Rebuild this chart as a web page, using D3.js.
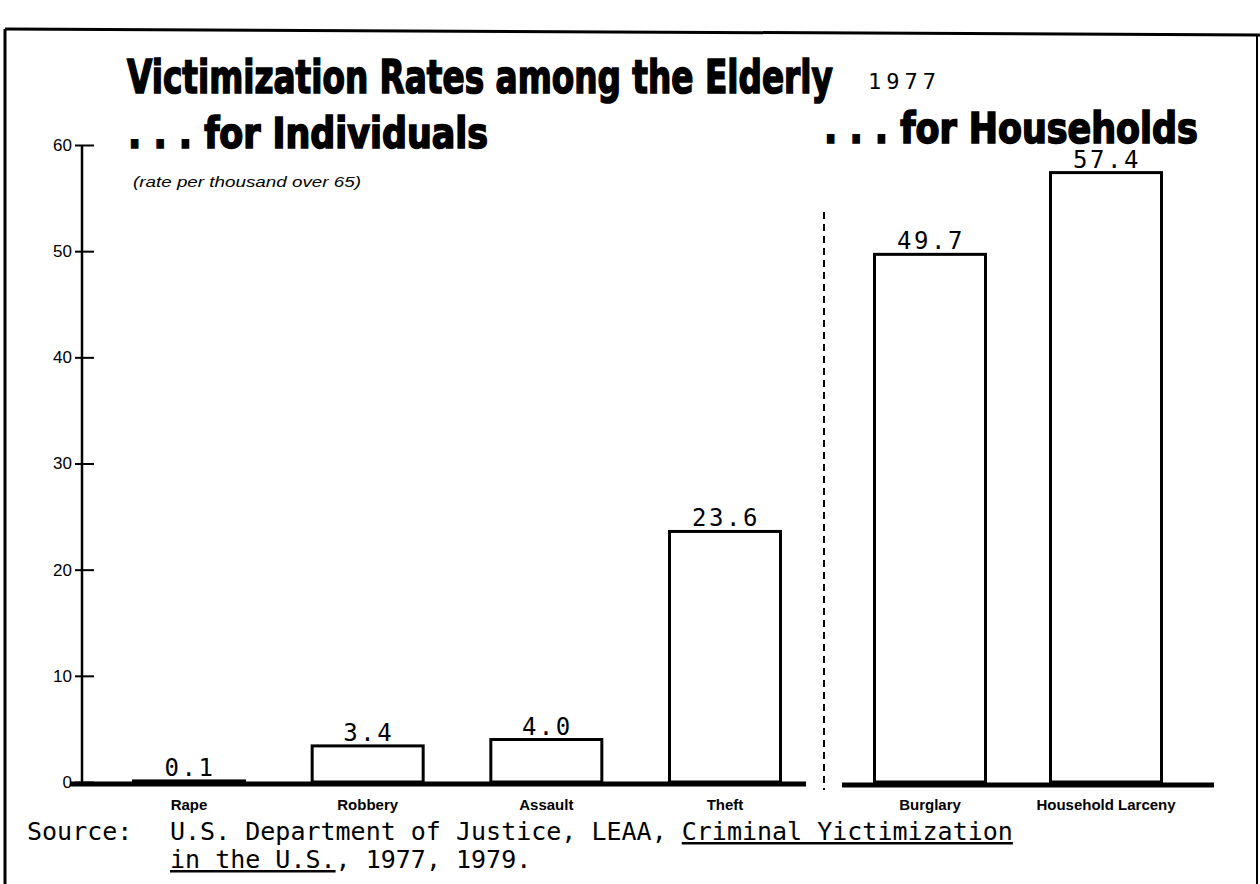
<!DOCTYPE html>
<html>
<head>
    <meta charset="UTF-8">
    <title>Victimization Rates among the Elderly</title>
    <script src="https://d3js.org/d3.v7.min.js"></script>
    <style type="text/css">
        body { margin: 0; background: white; }
        .mono { font-family: "DejaVu Sans Mono", "Liberation Mono", monospace; }
        .cond { font-family: "Liberation Sans Narrow", "DejaVu Sans Condensed", "Liberation Sans", sans-serif;
                font-weight: bold; stroke: black; stroke-width: 1.6px; }
    </style>
</head>
<body>
    <svg id="chart"></svg>

    <script>
        // data (rate per thousand over 65, 1977)
        const ind_categories = ["Rape", "Robbery", "Assault", "Theft"];
        const ind_values = [0.1, 3.4, 4.0, 23.6];
        const hh_categories = ["Burglary", "Household Larceny"];
        const hh_values = [49.7, 57.4];
        const y_ticks = [0, 10, 20, 30, 40, 50, 60];

        const WIDTH = 1260;
        const HEIGHT = 884;
        const BAR_W = 111;

        const svg = d3.select("#chart")
            .attr("width", WIDTH)
            .attr("height", HEIGHT);

        // scales
        const y = d3.scaleLinear().domain([0, 60]).range([782, 145]);
        const x_ind = d3.scalePoint().domain(ind_categories).range([189, 725]);
        const x_hh = d3.scalePoint().domain(hh_categories).range([930, 1106]);

        //---------frame of the scanned page-----------
        svg.append("line")
            .attr("x1", 5).attr("y1", 29).attr("x2", 1260).attr("y2", 35)
            .style("stroke", "black").style("stroke-width", 3);
        svg.append("line")
            .attr("x1", 5).attr("y1", 29).attr("x2", 5).attr("y2", HEIGHT)
            .style("stroke", "black").style("stroke-width", 3);
        svg.append("line")
            .attr("x1", 1257).attr("y1", 35).attr("x2", 1257).attr("y2", HEIGHT)
            .style("stroke", "black").style("stroke-width", 2);

        //---------titles-----------
        // squeeze a heading horizontally so it spans the given width
        const fit_heading = function(txt, x, yy, size, w) {
            const t = svg.append("text")
                .attr("class", "cond")
                .style("font-size", size + "px")
                .text(txt);
            const natural = t.node().getComputedTextLength();
            t.attr("transform", `translate(${x},${yy}) scale(${w / natural},1)`);
            return t;
        };

        fit_heading("Victimization Rates among the Elderly", 127, 93, 47, 706);
        fit_heading(". . . for Individuals", 128, 148, 42, 360);
        fit_heading(". . . for Households", 824, 143, 42, 374);

        svg.append("text")
            .attr("class", "mono")
            .attr("x", 868).attr("y", 89)
            .style("font-size", "22px")
            .style("letter-spacing", "5px")
            .text("1977");

        svg.append("text")
            .attr("x", 133).attr("y", 187)
            .attr("textLength", 228).attr("lengthAdjust", "spacingAndGlyphs")
            .style("font-family", "Liberation Sans, sans-serif")
            .style("font-style", "italic")
            .style("font-size", "15px")
            .text("(rate per thousand over 65)");

        //---------y axis-----------
        const axis = svg.append("g")
            .attr("transform", "translate(82,0)")
            .call(d3.axisLeft(y).tickValues(y_ticks).tickFormat(d3.format("d")).tickSizeOuter(0));

        axis.select(".domain")
            .attr("d", `M0,${y(0)}V${y(60)}`)
            .style("stroke", "black").style("stroke-width", 2.5);
        axis.selectAll(".tick line")
            .attr("x1", -7).attr("x2", 12)
            .style("stroke", "black").style("stroke-width", 2);
        axis.selectAll(".tick text")
            .attr("x", -10)
            .style("font-family", "Liberation Sans, sans-serif")
            .style("font-size", "17px")
            .style("fill", "black");

        //---------baselines and divider-----------
        svg.append("line")
            .attr("x1", 70).attr("x2", 806).attr("y1", y(0) + 2).attr("y2", y(0) + 2)
            .style("stroke", "black").style("stroke-width", 5);
        svg.append("line")
            .attr("x1", 842).attr("x2", 1214).attr("y1", y(0) + 3).attr("y2", y(0) + 3)
            .style("stroke", "black").style("stroke-width", 5);
        svg.append("line")
            .attr("x1", 824).attr("x2", 824).attr("y1", 212).attr("y2", 790)
            .style("stroke", "black").style("stroke-width", 2)
            .style("stroke-dasharray", "7,5");

        //---------bars-----------
        const draw_group = function(cats, vals, xs) {
            const rows = cats.map((c, i) => ({cat: c, val: vals[i]}));

            svg.append("g").selectAll("rect")
                .data(rows).enter().append("rect")
                .attr("x", d => xs(d.cat) - BAR_W / 2)
                .attr("y", d => y(d.val))
                .attr("width", BAR_W)
                .attr("height", d => y(0) - y(d.val))
                .style("fill", "white")
                .style("stroke", "black")
                .style("stroke-width", 3);

            svg.append("g").selectAll("text")
                .data(rows).enter().append("text")
                .attr("class", "mono")
                .attr("x", d => xs(d.cat) + 1)
                .attr("y", d => y(d.val) - 5)
                .style("text-anchor", "middle")
                .style("font-size", "24px")
                .style("letter-spacing", "2.5px")
                .text(d => d.val.toFixed(1));

            svg.append("g").selectAll("text")
                .data(rows).enter().append("text")
                .attr("x", d => xs(d.cat))
                .attr("y", 810)
                .style("text-anchor", "middle")
                .style("font-family", "Liberation Sans, sans-serif")
                .style("font-weight", "bold")
                .style("font-size", "15px")
                .text(d => d.cat);
        };

        draw_group(ind_categories, ind_values, x_ind);
        draw_group(hh_categories, hh_values, x_hh);

        //---------source note-----------
        svg.append("text")
            .attr("class", "mono")
            .attr("x", 27).attr("y", 840)
            .style("font-size", "25px")
            .text("Source:");

        const src1 = svg.append("text")
            .attr("class", "mono")
            .attr("x", 170).attr("y", 840)
            .style("font-size", "25px");
        src1.append("tspan").text("U.S. Department of Justice, LEAA, ");
        src1.append("tspan").style("text-decoration", "underline").text("Criminal Yictimization");

        const src2 = svg.append("text")
            .attr("class", "mono")
            .attr("x", 170).attr("y", 868)
            .style("font-size", "25px");
        src2.append("tspan").style("text-decoration", "underline").text("in the U.S.");
        src2.append("tspan").text(", 1977, 1979.");
    </script>
</body>
</html>
